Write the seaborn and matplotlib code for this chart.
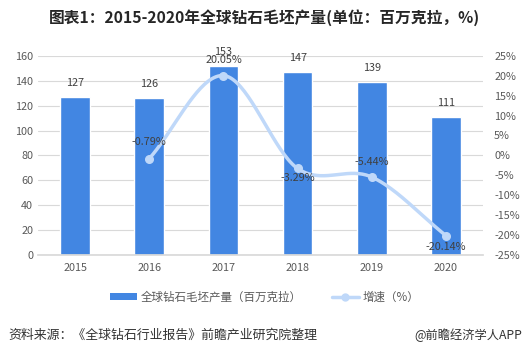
import numpy as np
import matplotlib
matplotlib.use("Agg")
import matplotlib.pyplot as plt
import seaborn as sns
import pandas as pd
from matplotlib.lines import Line2D
from matplotlib.patches import Patch

years = ["2015", "2016", "2017", "2018", "2019", "2020"]
output = [127, 126, 152, 147, 139, 111]
growth_years = ["2016", "2017", "2018", "2019", "2020"]
growth = [-0.79, 20.05, -3.29, -5.44, -20.14]
growth_labels = ["-0.79%", "20.05%", "-3.29%", "-5.44%", "-20.14%"]
output_labels = ["127", "126", "153", "147", "139", "111"]

bar_color = "#4286E2"
line_color = "#BFD8F9"
text_color = "#404040"

sns.set_theme(style="white")
plt.rcParams['font.family'] = ['Noto Sans CJK SC', 'DejaVu Sans']

df = pd.DataFrame({"year": years, "output": output})

fig = plt.figure(figsize=(5.29, 3.56), dpi=100)
ax = fig.add_axes([0.072, 0.284, 0.841, 0.559])

sns.barplot(data=df, x="year", y="output", color=bar_color, width=0.4,
            saturation=1, ax=ax, zorder=2)
ax.set_ylim(0, 160)
ax.set_xlim(-0.5, 5.5)
ax.set_yticks(range(0, 161, 20))
ax.yaxis.grid(True, color="#D9D9D9", linewidth=0.8, zorder=0)
ax.set_axisbelow(True)
ax.set_xlabel("")
ax.set_ylabel("")
for s in ax.spines.values():
    s.set_visible(False)
ax.spines["bottom"].set_visible(True)
ax.spines["bottom"].set_color("#D9D9D9")
ax.tick_params(axis="both", length=0, labelsize=7.8, colors="#595959")
ax.tick_params(axis="x", pad=6)

for i, (v, lab) in enumerate(zip(output, output_labels)):
    ax.text(i, v + 7, lab, ha="center", va="bottom", fontsize=7.8, color=text_color)

# growth line on right axis
ax2 = ax.twinx()
ax2.set_ylim(-25, 25)
ax2.set_yticks(range(-25, 26, 5))
ax2.set_yticklabels([f"{t}%" for t in range(-25, 26, 5)])
for s in ax2.spines.values():
    s.set_visible(False)
ax2.tick_params(axis="y", length=0, labelsize=7.8, colors="#595959", pad=8)

gx = np.array([years.index(y) for y in growth_years], dtype=float)
gy = np.array(growth, dtype=float)

# Catmull-Rom smoothing like Excel's smoothed line
px = np.concatenate([[2 * gx[0] - gx[1]], gx, [2 * gx[-1] - gx[-2]]])
py = np.concatenate([[2 * gy[0] - gy[1]], gy, [2 * gy[-1] - gy[-2]]])
sx, sy = [], []
t = np.linspace(0, 1, 40)
for k in range(1, len(px) - 2):
    p0, p1, p2, p3 = [np.array([px[j], py[j]]) for j in (k - 1, k, k + 1, k + 2)]
    pts = 0.5 * ((2 * p1)[:, None] + (-p0 + p2)[:, None] * t
                 + (2 * p0 - 5 * p1 + 4 * p2 - p3)[:, None] * t ** 2
                 + (-p0 + 3 * p1 - 3 * p2 + p3)[:, None] * t ** 3)
    sx.extend(pts[0]); sy.extend(pts[1])
ax2.plot(sx, sy, color=line_color, linewidth=2.5, zorder=3, solid_capstyle="round")
ax2.scatter(gx, gy, color=line_color, s=30, zorder=4)

offsets = [4.2, 4.0, -2.3, 3.8, -2.8]
for x, y, lab, off in zip(gx, gy, growth_labels, offsets):
    ax2.text(x, y + off, lab, ha="center", va="center", fontsize=7.8, color=text_color, zorder=5)

fig.suptitle("图表1：2015-2020年全球钻石毛坯产量(单位：百万克拉，%)", x=0.5, y=0.975,
             fontsize=11.3, fontweight="bold", color="#262626")

handles = [Patch(facecolor=bar_color, edgecolor="none"),
           Line2D([0], [0], color=line_color, linewidth=2.5, marker="o", markersize=5)]
fig.legend(handles, ["全球钻石毛坯产量（百万克拉）", "增速（%）"], loc="center",
           bbox_to_anchor=(0.5, 0.165), ncol=2, frameon=False, fontsize=8.3,
           handlelength=2.4, handleheight=0.6, columnspacing=2.6, handletextpad=0.3,
           labelcolor="#595959")

fig.text(0.015, 0.058, "资料来源：《全球钻石行业报告》前瞻产业研究院整理", fontsize=9.3,
         color="#333333", va="center", ha="left")
fig.text(0.987, 0.058, "@前瞻经济学人APP", fontsize=8.8, color="#333333", va="center", ha="right")

fig.savefig("out.png", dpi=100, facecolor="white")
